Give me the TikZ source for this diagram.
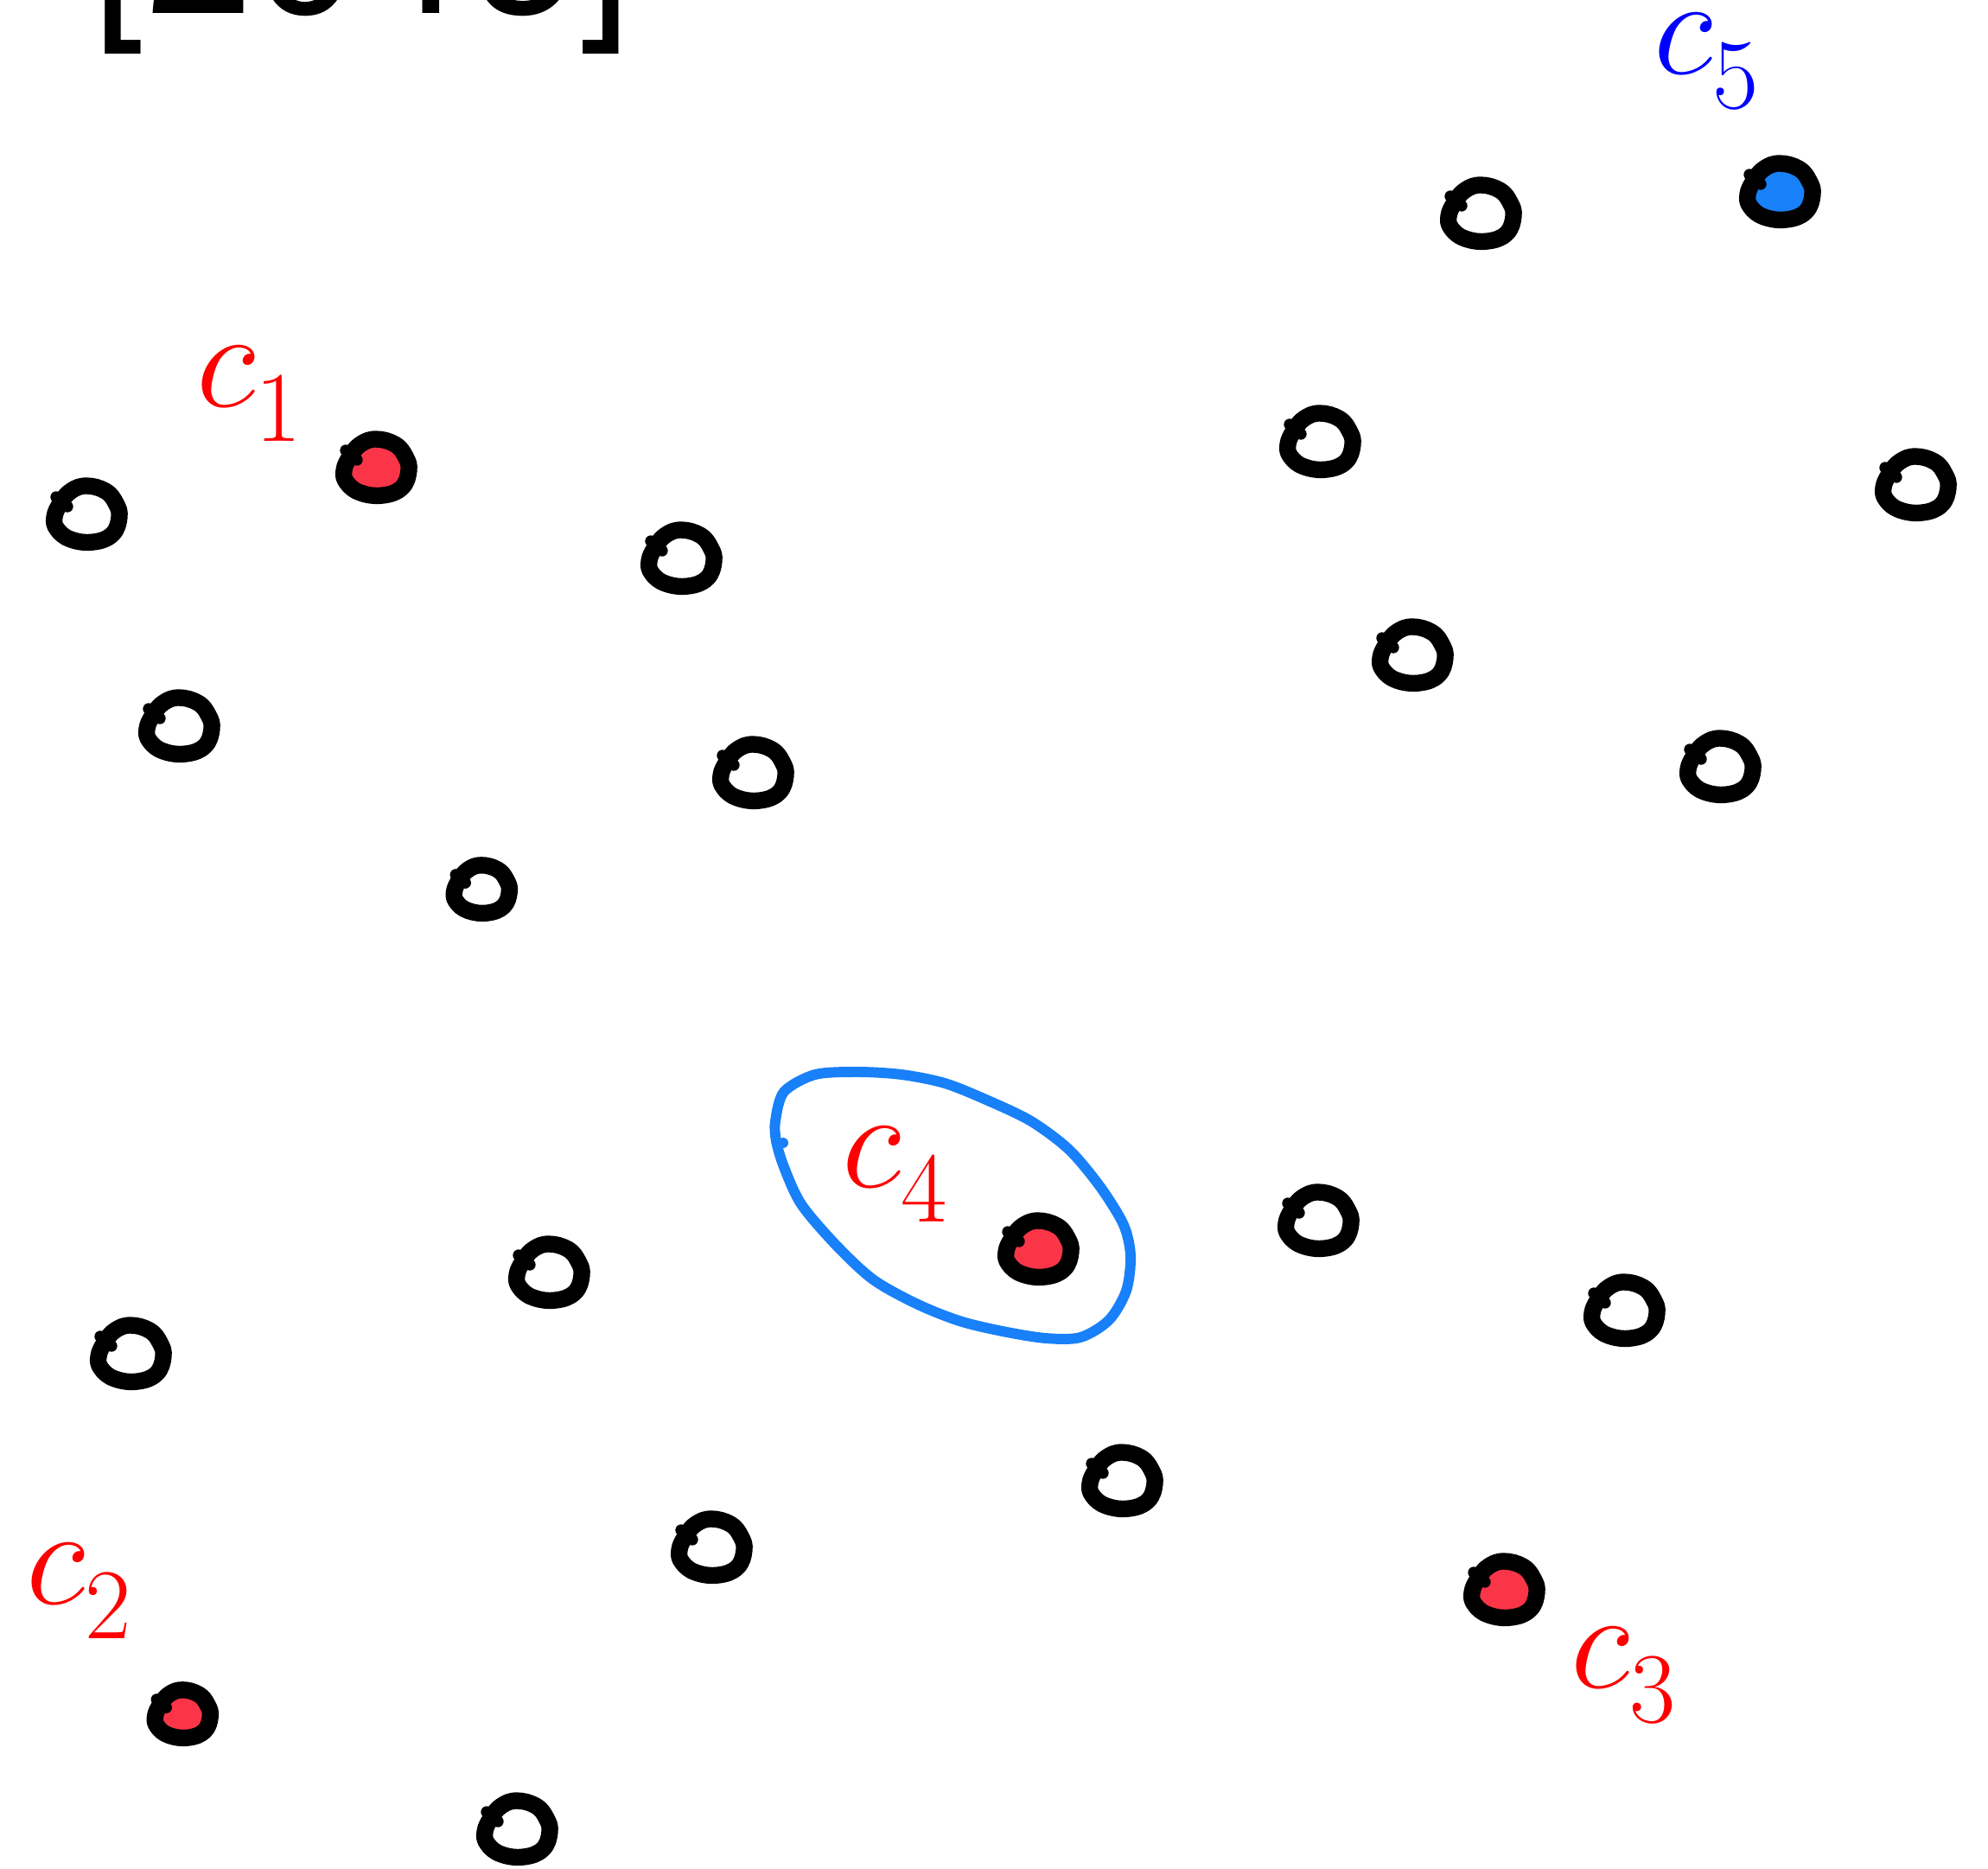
\documentclass[tikz,border=0pt]{standalone}
\usepackage{graphicx}
\usepackage{fontspec}
\newfontfamily\headfont{TeX Gyre Heros}
\definecolor{blobred}{RGB}{250,53,72}
\definecolor{blobblue}{RGB}{24,128,248}
\definecolor{loopblue}{RGB}{24,128,248}
\definecolor{labred}{RGB}{255,0,0}
\definecolor{labblue}{RGB}{0,0,255}
\newcommand\mylabeltext[1]{\scalebox{1.849}{\fontsize{24.88pt}{25pt}\selectfont$c$}\raisebox{-11.4pt}{\fontsize{33pt}{33pt}\selectfont #1}}
\tikzset{
  blobstroke/.style={line width=5.5pt, line join=round, draw=black},
  pics/blob/.style args={#1/#2}{code={
    \begin{scope}[scale=#2]
      \path[blobstroke, fill=#1] plot[smooth cycle, tension=0.7] coordinates
        {(0,0.32) (0.22,0.26) (0.34,0.12) (0.38,-0.04) (0.30,-0.24) (0.08,-0.33)
         (-0.18,-0.30) (-0.34,-0.18) (-0.37,-0.04) (-0.30,0.12) (-0.18,0.26)};
      \draw[line width=3.8pt, line cap=round] (-0.35,0.19) -- (-0.22,0.08);
    \end{scope}
  }},
  lab/.style={anchor=base west, inner sep=0pt},
  loopline/.style={draw=loopblue, line width=3.4pt, line join=round},
}
\begin{document}
\begin{tikzpicture}
\useasboundingbox[fill=white] (0,0) rectangle (23,-21.61);
% clipped heading at the top
\node[anchor=base west, inner sep=0pt] (head) at (1.07,-0.156) {\headfont\fontsize{63.2pt}{64pt}\selectfont [20\kern4.3pt 1\kern-2.6pt 5]};
% blobs
\path (17.13,-2.46) pic (b1) {blob=white/1};
\path (20.59,-2.21) pic (b2) {blob=blobblue/1};
\path (4.35,-5.40) pic (b3) {blob=blobred/1};
\path (1.00,-5.94) pic (b4) {blob=white/1};
\path (7.88,-6.45) pic (b5) {blob=white/1};
\path (15.27,-5.10) pic (b6) {blob=white/1};
\path (22.16,-5.60) pic (b7) {blob=white/1};
\path (16.34,-7.57) pic (b8) {blob=white/1};
\path (2.07,-8.39) pic (b9) {blob=white/1};
\path (8.71,-8.93) pic (b10) {blob=white/1};
\path (19.90,-8.86) pic (b11) {blob=white/1};
\path (5.57,-10.28) pic (b12) {blob=white/0.85};
\path (15.25,-14.11) pic (b14) {blob=white/1};
\path (6.35,-14.71) pic (b15) {blob=white/1};
\path (1.51,-15.65) pic (b16) {blob=white/1};
\path (18.79,-15.15) pic (b17) {blob=white/1};
\path (12.98,-17.12) pic (b18) {blob=white/1};
\path (8.23,-17.89) pic (b19) {blob=white/1};
\path (17.40,-18.38) pic (b20) {blob=blobred/1};
\path (2.11,-19.82) pic (b21) {blob=blobred/0.85};
\path (5.98,-21.15) pic (b22) {blob=white/1};
% loop around c4
\path[loopline] plot[smooth cycle, tension=0.5] coordinates
  {(8.97,-12.97) (9.07,-12.63) (9.43,-12.43) (9.93,-12.40) (10.43,-12.43) (10.93,-12.53)
   (11.43,-12.73) (11.93,-12.97) (12.37,-13.30) (12.73,-13.73) (13.00,-14.17) (13.08,-14.53)
   (13.03,-14.93) (12.83,-15.27) (12.50,-15.47) (12.10,-15.48) (11.60,-15.40) (11.10,-15.28)
   (10.60,-15.08) (10.10,-14.80) (9.67,-14.40) (9.27,-13.93) (9.07,-13.50) (8.98,-13.20)};
\fill[loopblue] (9.06,-13.22) circle (0.06);
\path (12.01,-14.44) pic (b13) {blob=blobred/1};
% labels
\node[lab, text=labblue] (c5) at (19.13,-0.85) {\mylabeltext{5}};
\node[lab, text=labred] (c1) at (2.27,-4.70) {\mylabeltext{1}};
\node[lab, text=labred] (c4) at (9.74,-13.73) {\mylabeltext{4}};
\node[lab, text=labred] (c2) at (0.30,-18.55) {\mylabeltext{2}};
\node[lab, text=labred] (c3) at (18.17,-19.52) {\mylabeltext{3}};
\end{tikzpicture}
\end{document}
